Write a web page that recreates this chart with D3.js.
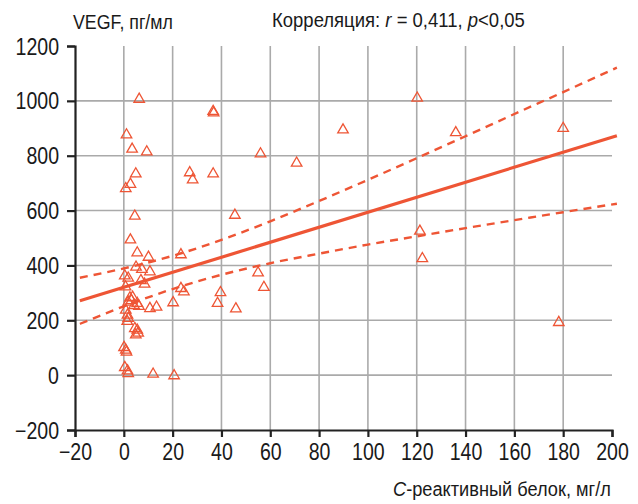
<!DOCTYPE html>
<html><head><meta charset="utf-8">
<script src="https://cdn.jsdelivr.net/npm/d3@7"></script>
<style>
html,body{margin:0;padding:0;background:#fff;}
svg text{font-family:"Liberation Sans",Arial,sans-serif;fill:#1a1a1a;}
</style></head>
<body>
<svg id="chart" width="638" height="504"></svg>
<script>
// Scatter data: CRP (mg/l) and VEGF (pg/ml)
const crp = [6.3,1.1,3.4,9.4,4.9,2.7,0.8,4.5,2.7,5.5,10.1,5.0,7.4,10.7,0.4,1.8,7.0,8.5,0.7,2.5,3.6,3.1,1.8,5.5,6.2,4.2,10.7,13.4,20.2,0.8,1.5,1.8,1.4,4.5,5.5,4.9,5.9,0.1,0.8,1.1,0.4,1.5,1.8,12.0,20.6,23.4,23.4,24.6,36.6,36.8,56.0,70.8,89.8,27.0,28.2,36.6,45.5,55.0,57.4,39.6,38.4,45.9,120.2,136.0,180.0,121.3,122.3,178.2];
const vegf = [1006,876,824,814,734,696,680,580,493,446,430,394,386,377,362,354,345,332,322,282,284,272,266,262,251,254,243,248,264,237,219,207,196,170,164,147,153,101,91,84,28,16,6,4,-2,439,316,304,962,956,807,773,894,738,712,734,583,373,320,301,262,242,1010,884,900,525,425,192];
// Regression line and confidence band
const regX = [-18, 202];
const regY = [271, 873];
const bandX = [-18, 0, 20, 40, 60, 80, 100, 120, 140, 160, 180, 202];
const bandUpper = [355, 389, 435, 493, 561, 635, 712, 791, 871, 952, 1032, 1121];
const bandLower = [187, 251, 314, 366, 408, 443, 476, 506, 536, 565, 594, 625];
// Ticks
const xTicks = [-20, 0, 20, 40, 60, 80, 100, 120, 140, 160, 180, 200];
const yTicks = [-200, 0, 200, 400, 600, 800, 1000, 1200];
const xGrid = [0, 20, 40, 60, 80, 100, 120, 140, 160, 180];
const yGrid = [0, 200, 400, 600, 800, 1000];

const svg = d3.select("#chart");
const x = d3.scaleLinear().domain([-20, 200]).range([75, 612]);
const y = d3.scaleLinear().domain([-200, 1200]).range([430, 46]);
const red = "#ee5535";
const gridColor = "#aaaaaa";
const K = 0.85; // horizontal condensing of the label font

// grid
svg.append("g").selectAll("line").data(xGrid).join("line")
  .attr("x1", d => x(d)).attr("x2", d => x(d))
  .attr("y1", y(1200)).attr("y2", y(-200))
  .attr("stroke", gridColor).attr("stroke-width", 1.6);
svg.append("g").selectAll("line").data(yGrid).join("line")
  .attr("x1", x(-20)).attr("x2", x(200))
  .attr("y1", d => y(d)).attr("y2", d => y(d))
  .attr("stroke", gridColor).attr("stroke-width", 1.6);

// axes
const fmt = d => d < 0 ? "\u2212" + Math.abs(d) : String(d);
const xAxis = svg.append("g").attr("transform", `translate(0,${y(-200)})`)
  .call(d3.axisBottom(x).tickValues(xTicks).tickFormat(fmt).tickSize(7).tickSizeOuter(7));
const yAxis = svg.append("g").attr("transform", `translate(${x(-20)},0)`)
  .call(d3.axisLeft(y).tickValues(yTicks).tickFormat(fmt).tickSize(8).tickSizeOuter(8));
[xAxis, yAxis].forEach(g => {
  g.attr("font-family", null).attr("font-size", null);
  g.select(".domain").attr("stroke", "#222").attr("stroke-width", 2.2);
  g.selectAll(".tick line").attr("stroke", "#222").attr("stroke-width", 2.2);
  g.selectAll(".tick text").attr("font-size", 23).attr("fill", "#1a1a1a")
    .attr("transform", `scale(${K},1)`);
});
xAxis.selectAll(".tick text").attr("y", 30).attr("dy", 0);
yAxis.selectAll(".tick text").attr("x", -16 / K).attr("dy", "0.35em");

// band
const bandUp = bandX.map((d, i) => [d, bandUpper[i]]);
const bandLo = bandX.map((d, i) => [d, bandLower[i]]);
const line = d3.line().x(d => x(d[0])).y(d => y(d[1])).curve(d3.curveMonotoneX);
[bandUp, bandLo].forEach(pts => {
  svg.append("path").attr("d", line(pts)).attr("fill", "none")
    .attr("stroke", red).attr("stroke-width", 2.4).attr("stroke-dasharray", "8,6");
});
svg.append("path").attr("d", line(regX.map((d, i) => [d, regY[i]])))
  .attr("fill", "none").attr("stroke", red).attr("stroke-width", 3.2);

// points
const tri = d3.symbol().type(d3.symbolTriangle).size(48);
svg.append("g").selectAll("path").data(crp.map((d, i) => [d, vegf[i]])).join("path")
  .attr("d", tri).attr("transform", d => `translate(${x(d[0])},${y(d[1])})`)
  .attr("fill", "none").attr("stroke", red).attr("stroke-width", 1.3);

// titles: condensed by measured horizontal scaling to the reference widths
function fitText(sel, x0, y0, width) {
  const w = sel.node().getComputedTextLength();
  sel.attr("transform", `translate(${x0},${y0}) scale(${width / w},1)`);
}
const v = svg.append("text").attr("font-size", 21).text("VEGF, пг/мл");
fitText(v, 73, 29, 100);
const t = svg.append("text").attr("font-size", 21);
t.append("tspan").text("Корреляция: ");
t.append("tspan").attr("font-style", "italic").text("r");
t.append("tspan").text(" = 0,411, ");
t.append("tspan").attr("font-style", "italic").text("p");
t.append("tspan").text("<0,05");
fitText(t, 272, 27, 253);
const xt = svg.append("text").attr("font-size", 21);
xt.append("tspan").attr("font-style", "italic").text("С");
xt.append("tspan").text("-реактивный белок, мг/л");
fitText(xt, 393, 496, 218);
</script>
</body></html>
